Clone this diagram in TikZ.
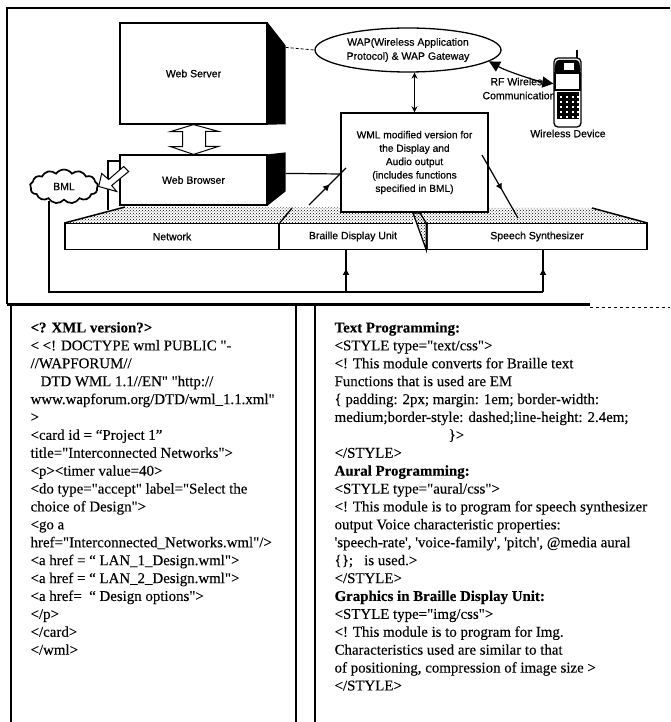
\documentclass[tikz,border=0pt]{standalone}
\usepackage{fontspec}
\setmainfont{Liberation Serif}
\newfontfamily\codefont[FakeBold=0.2]{Liberation Serif}
\newfontfamily\labelfont[FakeBold=0.6]{Liberation Sans}
\usetikzlibrary{arrows.meta, positioning, shapes, calc, patterns, decorations.markings}

\begin{document}
\begin{tikzpicture}[x=1pt, y=-1pt, font=\labelfont\fontsize{10.5}{13}\selectfont, line width=1.2pt,
  box/.style={draw=black, fill=white, align=center, inner sep=0pt},
  unit/.style={box, minimum height=25.5pt, line width=1.4pt},
  panel/.style={anchor=north west, align=left, inner sep=0pt, font=\codefont\fontsize{14.9}{17.9}\selectfont},
  hollowar/.style={draw=black, fill=white, line width=1pt, line join=miter},
  ar/.style={{Stealth[length=6pt, width=6pt]}-{Stealth[length=6pt, width=6pt]}},
  rfar/.style={{Stealth[length=11pt, width=11pt, inset=0pt]}-{Stealth[length=11pt, width=11pt, inset=0pt]}, line width=1.2pt},
  midar/.style={postaction={decorate}, decoration={markings, mark=at position 0.55 with {\arrow{Stealth[length=6pt, width=6pt, inset=0pt]}}}}]
\useasboundingbox (0,0) rectangle (670,722);
% frames
\draw[line width=1.8pt] (670,8) -- (7,8) -- (7,304);
\draw[line width=2.6pt] (7,304.5) -- (590,304.5);
\draw[line width=0.5pt, dashed] (590,307) -- (670,307);
\draw[line width=1.8pt] (11,305) -- (11,722);
\draw[line width=1.8pt] (296,305) -- (296,722);
\draw[line width=1.8pt] (315,305) -- (315,722);
% platform
\node[unit, minimum width=214pt] (network) at (172,236.5) {Network};
\node[unit, minimum width=148pt] (braille) at (353,236.5) {Braille Display Unit};
\node[unit, minimum width=220pt] (speech) at (537,236.5) {Speech Synthesizer};
\fill[pattern=crosshatch dots, pattern color=black] (network.north west) -- (125,207) -- (592,208) -- (speech.north east) -- cycle;
\draw[line width=1.5pt] (network.north west) -- (125,207);
\draw[line width=1.5pt] (592,208) -- (speech.north east);
\draw[line width=1.3pt] (network.north east) -- (292,208);
\fill[white] (413,224) -- (413,213) -- (427,250) -- (427,224) -- cycle;
\filldraw[pattern=crosshatch dots, pattern color=black, line width=1.3pt] (413,213) -- (420,213) -- (speech.north west) -- (speech.south west) -- cycle;
% cables behind the boxes
\coordinate (backDown) at (108,210);
\coordinate (backIn) at (121,161);
\draw (backDown) |- (backIn);
% top boxes
\node[box, minimum width=147pt, minimum height=101pt] (server) at (193.5,73.5) {Web Server};
\fill (server.north east) -- ++(18,23) -- ++(0,79) -- (server.south east) -- cycle;
\node[box, minimum width=147pt, minimum height=50pt] (browser) at (193.5,180) {Web Browser};
\fill (browser.north east) -- ++(18,-2) -- ++(0,39) -- (browser.south east) -- cycle;
\node[box, ellipse, minimum width=186pt, minimum height=44pt, line width=1.3pt] (wap) at (408,50) {WAP(Wireless Application\\[1pt]Protocol) \& WAP Gateway};
\node[box, minimum width=147pt, minimum height=99pt, line width=1.3pt, font=\labelfont\fontsize{10.2}{13.4}\selectfont] (wml) at (414.5,162.5) {WML modified version for\\the Display and\\Audio output\\(includes functions\\specified in BML)};
\node[box, draw=none, fill=none] (rflabel) at (519,88.5) {RF Wireless\\[1pt]Communication};
% phone
\draw[line width=2pt] (577,50) -- (577,60);
\node[box, rounded corners=4pt, minimum width=27pt, minimum height=69pt, line width=1.3pt] (phone) at (567.5,92.5) {};
\fill[rounded corners=3pt] (554,73) -- (556,60) -- (579,60) -- (581,73) -- cycle;
\fill[white] (564,63) rectangle (574,70);
\draw[line width=1.5pt] (555,73) rectangle (580,90);
\fill (557,92) rectangle (579,119);
\foreach \col in {560,566,572,577} \foreach \row in {96,101,106,111,116} {\fill[white] (\col,\row) rectangle +(2.4,1.6);}
\node[box, draw=none, fill=none] (devlabel) at (568,133.5) {Wireless Device};
% BML cloud
\node[box, cloud, cloud puffs=13, cloud puff arc=110, aspect=2.1, minimum width=68pt, minimum height=34pt, line width=1.7pt] (bml) at (64,186.5) {BML};
% connectors
\coordinate (busL) at (49,292);
\coordinate (busB) at (346,292);
\coordinate (busS) at (543,292);
\draw (busL |- bml.south) -- (busL) -- (busS);
\draw[midar] (busB) -- (busB |- braille.south);
\draw[midar] (busS) -- (busS |- speech.south);
\draw[ar] (wap.south -| wml.north) -- (wml.north);
\draw[rfar] (wap.-8) .. controls +(20,11) and +(-14,-2) .. (phone.148);
\draw[densely dashed, line width=0.8pt] (server.north east) ++(18,25) -- (wap.west);
\draw (browser.north east) ++(18,19) -- (wml.west |- 0,174);
\coordinate (brailleTop) at (309,205);
\coordinate (wmlIn) at (346,168);
\coordinate (wmlOut) at (482,155);
\coordinate (speechTop) at (518,218);
\draw[midar] (brailleTop) -- (wmlIn);
\draw[midar] (wmlOut) -- (speechTop);
\draw[hollowar] (server.south) -- ++(-23,7) -- ++(12,0) -- ++(0,15) -- ++(-12,0) -- (browser.north) -- ++(25,-8) -- ++(-13,0) -- ++(0,-15) -- ++(13,0) -- cycle;
\draw[hollowar] (bml.east) -- ++(3,-13) -- ++(7,6) -- ++(15,-13) -- ++(5,5) -- ++(-17,14) -- ++(5,6) -- cycle;
% code panels
\node[panel] (wmlcode) at (30,321.5) {\textbf{<? XML version?>}\\
< <! DOCTYPE wml PUBLIC "-\\
//WAPFORUM//\\
\hspace*{10pt}DTD WML 1.1//EN" "http://\\
www.wapforum.org/DTD/wml\_1.1.xml"\\
>\\
<card id = “Project 1”\\
title="Interconnected Networks">\\
<p><timer value=40>\\
<do type="accept" label="Select the\\
choice of Design">\\
<go a\\
href="Interconnected\_Networks.wml"/>\\
<a href = “ LAN\_1\_Design.wml">\\
<a href = “ LAN\_2\_Design.wml">\\
<a href=\ \ “ Design options">\\
</p>\\
</card>\\
</wml>};
\node[panel] (csscode) at (334,321.5) {\textbf{Text Programming:}\\
<STYLE type="text/css">\\
<! This module converts for Braille text\\
Functions that is used are EM\\
\{ padding: 2px; margin: 1em; border-width:\\
medium;border-style: dashed;line-height: 2.4em;\\
\hspace*{114pt}\}>\\
</STYLE>\\
\textbf{Aural Programming:}\\
<STYLE type="aural/css">\\
<! This module is to program for speech synthesizer\\
output Voice characteristic properties:\\
'speech-rate', 'voice-family', 'pitch', @media aural\\
\{\};\ \ \ is used.>\\
</STYLE>\\
\textbf{Graphics in Braille Display Unit:}\\
<STYLE type="img/css">\\
<! This module is to program for Img.\\
Characteristics used are similar to that\\
of positioning, compression of image size >\\
</STYLE>};
\end{tikzpicture}
\end{document}
